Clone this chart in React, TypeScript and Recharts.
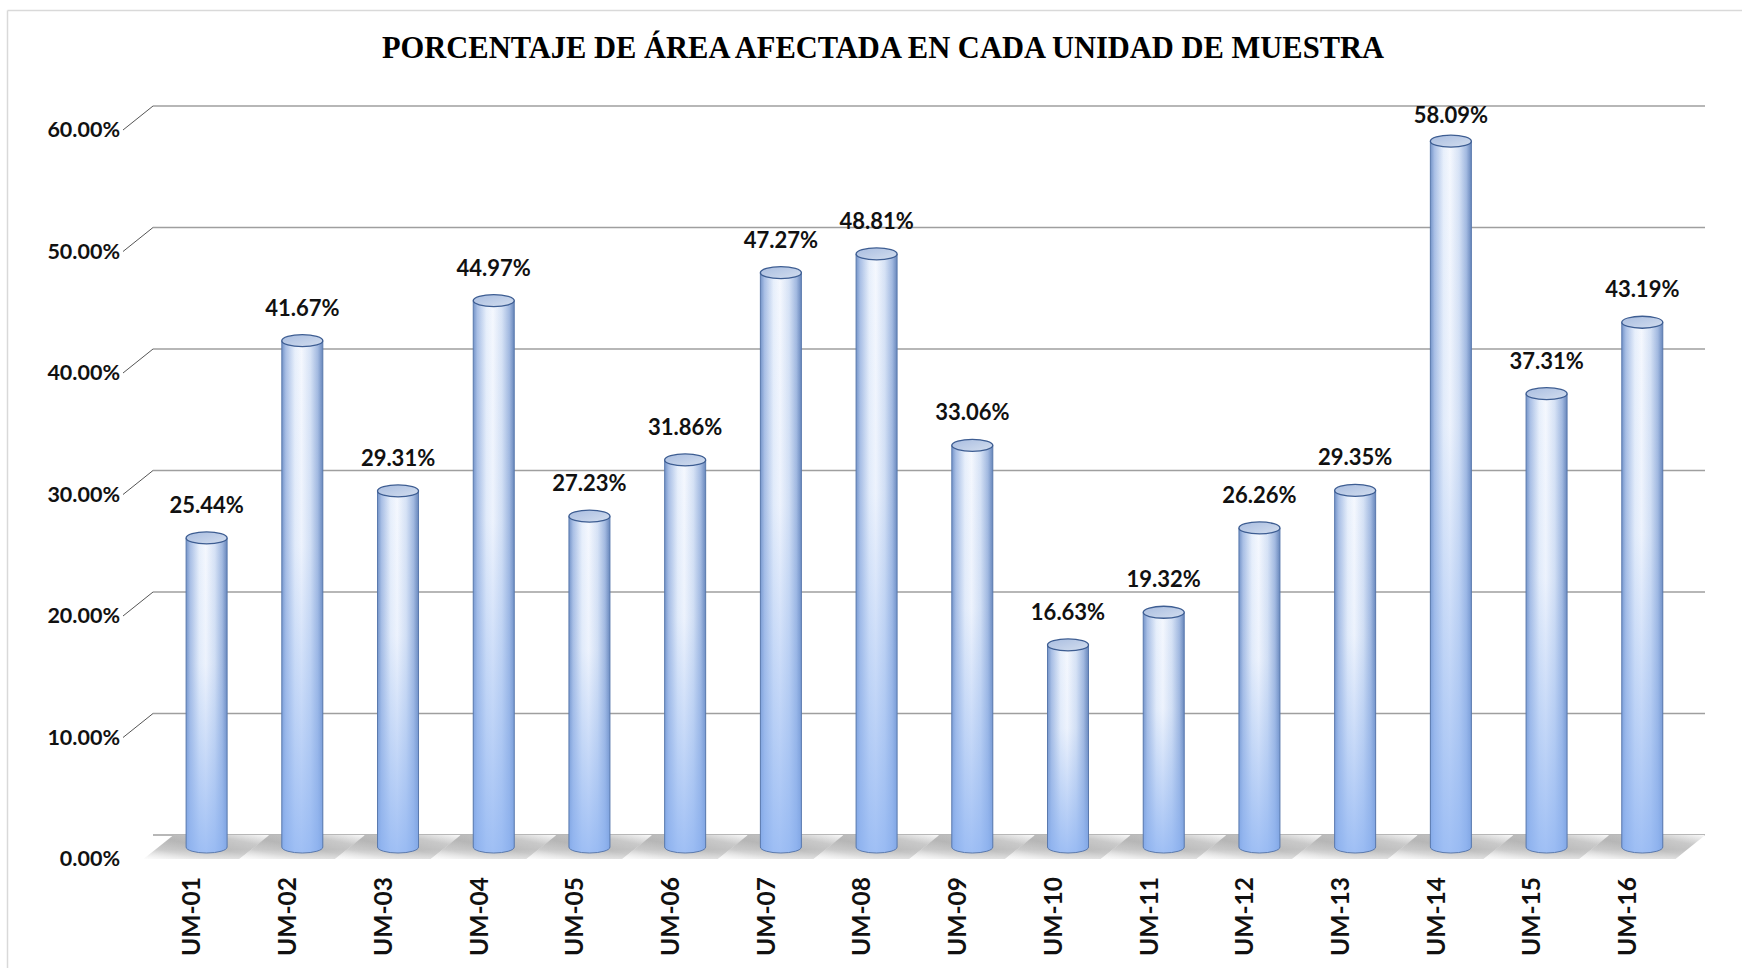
import React from "react";
import { BarChart, Bar, XAxis, YAxis, CartesianGrid, LabelList } from "recharts";

const categories = [
  "UM-01", "UM-02", "UM-03", "UM-04", "UM-05", "UM-06", "UM-07", "UM-08",
  "UM-09", "UM-10", "UM-11", "UM-12", "UM-13", "UM-14", "UM-15", "UM-16",
];
const values = [
  25.44, 41.67, 29.31, 44.97, 27.23, 31.86, 47.27, 48.81,
  33.06, 16.63, 19.32, 26.26, 29.35, 58.09, 37.31, 43.19,
];
const yTicks = [0, 10, 20, 30, 40, 50, 60];

const data = categories.map((name, i) => ({ name, value: values[i] }));

// 3d offset: back wall is up-right, front is down-left
const DX = 15;
const DY = 12;
const PLOT_TOP = 118;
const FONT = "Lato, 'Open Sans', sans-serif";

const GridLine = (p: any) => {
  const bottom = typeof p.y === "number" && typeof p.height === "number" ? p.y + p.height : 847;
  const isFloor = Math.abs(p.y1 - bottom) < 1;
  return (
    <g>
      <line x1={p.x1 + DX} y1={p.y1 - DY} x2={p.x2 + DX} y2={p.y2 - DY} stroke="#9f9f9f" strokeWidth={1.3} />
      {!isFloor && (
        <line x1={p.x1 - DX} y1={p.y1 + DY} x2={p.x1 + DX} y2={p.y1 - DY} stroke="#555" strokeWidth={1} />
      )}
    </g>
  );
};

const YTick = (p: any) => (
  <text x={p.x - 18} y={p.y + DY + 7} textAnchor="end" fontFamily={FONT} fontWeight={700} fontSize={21.5} fill="#111">
    {`${Number(p.payload.value).toFixed(2)}%`}
  </text>
);

const XTick = (p: any) => (
  <text
    transform={`translate(${p.x - 6},${p.y + 30}) rotate(-90)`}
    textAnchor="end"
    fontFamily={FONT}
    fontWeight={700}
    fontSize={24.5}
    fill="#111"
  >
    {p.payload.value}
  </text>
);

const Cylinder = (p: any) => {
  const { x, y, width, height } = p;
  const base = y + height;
  const cx = x + width / 2;
  const r = 20.5;
  const ry = 6;
  const body = `M${cx - r},${y} L${cx - r},${base} A${r},${ry} 0 0 0 ${cx + r},${base} L${cx + r},${y} Z`;
  const floor = `M${x + DX},${base - DY} L${x + width + DX},${base - DY} L${x + width - DX},${base + DY} L${x - DX},${base + DY} Z`;
  return (
    <g>
      <path d={floor} fill="url(#floorGrad)" />
      <path d={floor} fill="url(#floorFade)" />
      <path d={body} fill="url(#bodyH)" />
      <path d={body} fill="url(#bodyV)" stroke="#5a79ad" strokeWidth={1} />
      <ellipse cx={cx} cy={y} rx={r} ry={ry} fill="url(#capGrad)" stroke="#3d5d92" strokeWidth={1.3} />
    </g>
  );
};

const ValueLabel = (p: any) => (
  <text
    x={p.x + p.width / 2}
    y={Math.max(p.y - 25, PLOT_TOP + 5)}
    textAnchor="middle"
    fontFamily={FONT}
    fontWeight={700}
    fontSize={22}
    fill="#111"
  >
    {`${Number(p.value).toFixed(2)}%`}
  </text>
);

export default function App() {
  return (
    <div style={{ position: "absolute", left: 0, top: 0, width: 1742, height: 968, background: "#fff" }}>
      <svg width={0} height={0} style={{ position: "absolute" }}>
        <defs>
          <linearGradient id="bodyH" x1="0" y1="0" x2="1" y2="0">
            <stop offset="0" stopColor="#7393c8" />
            <stop offset="0.1" stopColor="#a9bfe5" />
            <stop offset="0.32" stopColor="#e7effb" />
            <stop offset="0.48" stopColor="#f5f8fe" />
            <stop offset="0.7" stopColor="#d6e2f5" />
            <stop offset="0.88" stopColor="#a2b9e0" />
            <stop offset="1" stopColor="#6786bb" />
          </linearGradient>
          <linearGradient id="bodyV" x1="0" y1="0" x2="0" y2="1">
            <stop offset="0" stopColor="#8fb3ee" stopOpacity={0} />
            <stop offset="0.4" stopColor="#8fb3ee" stopOpacity={0.08} />
            <stop offset="1" stopColor="#8ab1f2" stopOpacity={0.8} />
          </linearGradient>
          <linearGradient id="capGrad" x1="0" y1="0" x2="1" y2="1">
            <stop offset="0" stopColor="#a9bde0" />
            <stop offset="1" stopColor="#d3deef" />
          </linearGradient>
          <linearGradient id="floorGrad" x1="0" y1="1" x2="1" y2="0">
            <stop offset="0" stopColor="#fbfbfb" />
            <stop offset="0.25" stopColor="#c6c6c6" />
            <stop offset="0.5" stopColor="#b3b3b3" />
            <stop offset="0.75" stopColor="#c6c6c6" />
            <stop offset="1" stopColor="#fbfbfb" />
          </linearGradient>
          <linearGradient id="floorFade" x1="0" y1="0" x2="0" y2="1">
            <stop offset="0" stopColor="#ffffff" stopOpacity={0} />
            <stop offset="0.6" stopColor="#ffffff" stopOpacity={0.1} />
            <stop offset="1" stopColor="#ffffff" stopOpacity={0.55} />
          </linearGradient>
        </defs>
      </svg>

      <svg width={1742} height={968} style={{ position: "absolute", left: 0, top: 0 }}>
        <line x1={7.5} y1={10.5} x2={1742} y2={10.5} stroke="#d9d9d9" strokeWidth={1.5} />
        <line x1={7.5} y1={10.5} x2={7.5} y2={968} stroke="#d9d9d9" strokeWidth={1.5} />
        <text x={883} y={58} textAnchor="middle" fontFamily="'Liberation Serif', 'Times New Roman', serif" fontWeight={700} fontSize={30.5} fill="#000">
          PORCENTAJE DE ÁREA AFECTADA EN CADA UNIDAD DE MUESTRA
        </text>
      </svg>

      <div style={{ position: "absolute", left: 0, top: 0 }}>
        <BarChart
          width={1742}
          height={968}
          data={data}
          margin={{ top: PLOT_TOP, right: 52, left: 18, bottom: 21 }}
          barCategoryGap={0}
          barGap={0}
        >
          <CartesianGrid vertical={false} horizontal={GridLine} />
          <XAxis
            dataKey="name"
            height={100}
            padding={{ left: 20.6, right: 0 }}
            axisLine={false}
            tickLine={false}
            tickSize={0}
            tickMargin={0}
            interval={0}
            tick={XTick}
          />
          <YAxis
            width={120}
            domain={[0, 60]}
            ticks={yTicks}
            axisLine={false}
            tickLine={false}
            tickSize={0}
            tickMargin={0}
            tick={YTick}
          />
          <Bar dataKey="value" shape={Cylinder} isAnimationActive={false}>
            <LabelList dataKey="value" content={ValueLabel} />
          </Bar>
        </BarChart>
      </div>
    </div>
  );
}
